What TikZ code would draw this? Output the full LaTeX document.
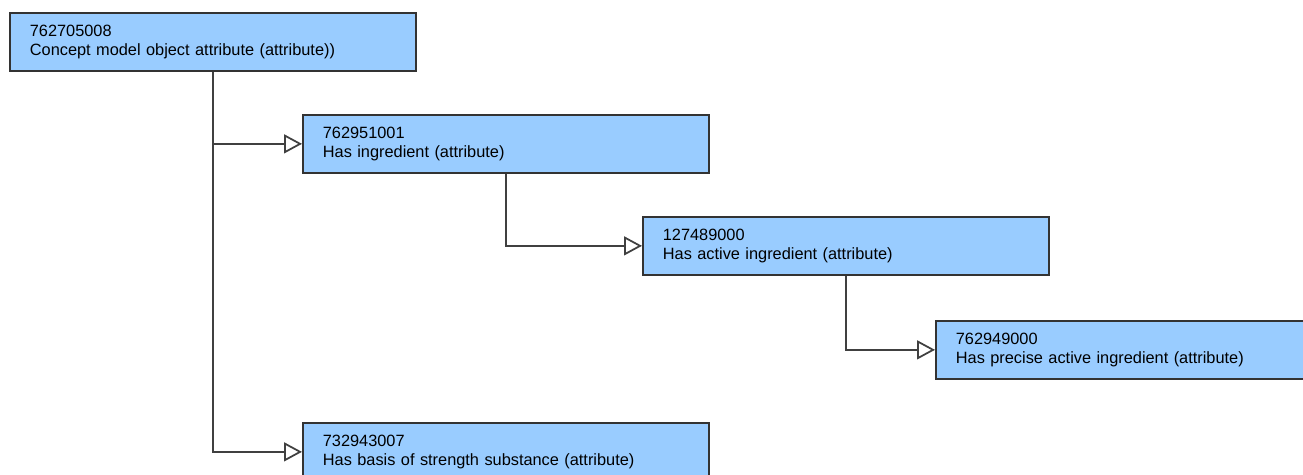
\documentclass[tikz,border=0pt]{standalone}
\usepackage{fontspec}
\setmainfont{Liberation Sans}
\usetikzlibrary{arrows.meta}

\definecolor{conceptblue}{HTML}{99CCFF}
\definecolor{conceptedge}{HTML}{333333}

\begin{document}
\begin{tikzpicture}[x=0.02cm, y=-0.02cm,
	concept/.style={draw=conceptedge, line width=1pt, rectangle, fill=conceptblue, anchor=north west, text width=7.32cm, inner xsep=0.4cm, inner ysep=0pt, minimum height=1.16cm, align=left, font=\fontsize{9.3}{11}\selectfont},
	isa/.style={-{Triangle[open, length=0.36cm, width=0.38cm]}, line width=1pt, draw=black!75}
	]
	\useasboundingbox (0,0) rectangle (1303,475);
	\clip (0,0) rectangle (1303,475);
	
	% Concepts
	\node[concept] (attribute) at (9,12) {762705008\\Concept model object attribute (attribute))};
	\node[concept] (ingredient) at (302,114) {762951001\\Has ingredient (attribute)};
	\node[concept] (active) at (642,216) {127489000\\Has active ingredient (attribute)};
	\node[concept] (precise) at (935,320) {762949000\\Has precise active ingredient (attribute)};
	\node[concept] (basis) at (302,422) {732943007\\Has basis of strength substance (attribute)};
	
	% Is-a arrows
	\draw[isa] (attribute.south) |- (ingredient.west);
	\draw[isa] (attribute.south) |- (basis.west);
	\draw[isa] (ingredient.south) |- (active.west);
	\draw[isa] (active.south) |- (precise.west);
	
\end{tikzpicture}
\end{document}
